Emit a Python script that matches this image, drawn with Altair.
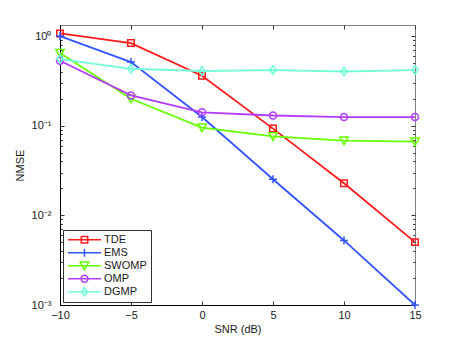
import altair as alt
import pandas as pd

# ---- data ----
snr = [-10, -5, 0, 5, 10, 15]
series = ["TDE", "EMS", "SWOMP", "OMP", "DGMP"]
tde = [1.07, 0.836, 0.361, 0.0929, 0.0228, 0.00503]
ems = [1.0, 0.513, 0.125, 0.0253, 0.00525, 0.001]
swomp = [0.647, 0.2, 0.0953, 0.0762, 0.0683, 0.0665]
omp = [0.531, 0.218, 0.141, 0.13, 0.125, 0.125]
dgmp = [0.554, 0.432, 0.408, 0.418, 0.403, 0.418]
colors = ["#ff1a1a", "#3355ff", "#66ff00", "#b43cff", "#73ffd9"]

x_ticks = [-10, -5, 0, 5, 10, 15]
y_major = [0.001, 0.01, 0.1, 1]
y_major_labels = ["10⁻³", "10⁻²", "10⁻¹", "10⁰"]
y_all = [k * 10.0 ** e for e in range(-3, 1) for k in range(1, 10) if k * 10.0 ** e <= 1.33]

# marker shapes (plot) and legend symbols (line + marker)
marker_paths = {
    "TDE": ("M-1,-1H1V1H-1Z", 42),
    "EMS": ("M-1,0H1M0,-1V1", 64),
    "SWOMP": ("M-1,-0.85H1L0,0.95Z", 72),
    "OMP": ("M1,0A1,1 0 1,1 -1,0A1,1 0 1,1 1,0Z", 49),
    "DGMP": ("M0,-1L0.75,0L0,1L-0.75,0Z", 72),
}
legend_paths = [
    "M-1,0H1M-0.195,-0.195H0.195V0.195H-0.195Z",
    "M-1,0H1M0,-0.24V0.24",
    "M-1,0H1M-0.26,-0.22H0.26L0,0.25Z",
    "M-1,0H1M0.21,0A0.21,0.21 0 1,1 -0.21,0A0.21,0.21 0 1,1 0.21,0Z",
    "M-1,0H1M0,-0.26L0.19,0L0,0.26L-0.19,0Z",
]

vals = {"TDE": tde, "EMS": ems, "SWOMP": swomp, "OMP": omp, "DGMP": dgmp}
rows = []
for s in series:
    for x, v in zip(snr, vals[s]):
        rows.append({"snr": x, "nmse": v, "series": s})
df = pd.DataFrame(rows)

W, H = 355, 280
FONT = "Liberation Sans"
TXT = "#1a1a1a"

xscale = alt.Scale(domain=[-10, 15], nice=False, zero=False)
yscale = alt.Scale(type="log", domain=[0.001, 1.33], nice=False)
cscale = alt.Scale(domain=series, range=colors)

major_test = "abs(log(datum.value)/LN10 - round(log(datum.value)/LN10)) < 0.001"
label_expr = (
    f"({major_test}) ? ("
    + " : ".join(
        f"datum.value > {v * 0.5} ? '{l}'" for v, l in zip(reversed(y_major), reversed(y_major_labels))
    )
    + " : '') : ''"
)

# inward ticks drawn as dashed grid lines: a short dash at each end of every grid line
x_axis = alt.Axis(values=x_ticks, ticks=False, tickSize=0, labelFlush=False,
                  domain=True, domainColor="#000000", domainWidth=1,
                  grid=True, gridColor="#333333", gridWidth=1, gridDash=[4, H - 8, 4], gridOpacity=1,
                  labelFont=FONT, labelFontSize=11, labelColor=TXT, labelPadding=4,
                  title="SNR (dB)", titleFont=FONT, titleFontSize=11, titleFontWeight="normal",
                  titleColor=TXT, titlePadding=3)
y_axis = alt.Axis(values=y_all, ticks=False, tickSize=0, labelFlush=False,
                  domain=True, domainColor="#000000", domainWidth=1,
                  grid=True, gridColor="#333333", gridWidth=1, gridOpacity=1,
                  gridDash={"condition": {"test": major_test, "value": [4, W - 8, 4]},
                            "value": [2.3, W - 4.6, 2.3]},
                  labelExpr=label_expr, labelFont=FONT, labelFontSize=11, labelColor=TXT,
                  labelPadding=9,
                  title="NMSE", titleFont=FONT, titleFontSize=11, titleFontWeight="normal",
                  titleColor=TXT, titlePadding=6)

X = alt.X("snr:Q", scale=xscale, axis=x_axis)
Y = alt.Y("nmse:Q", scale=yscale, axis=y_axis)

base = alt.Chart(df)

layers = []
for i, s in enumerate(series):
    path, size = marker_paths[s]
    sub = base.transform_filter(alt.datum.series == s)
    layers.append(sub.mark_line(strokeWidth=1.8, color=colors[i]).encode(x=X, y=Y))
    layers.append(
        sub.mark_point(shape=path, size=size, filled=False, strokeWidth=1.5, opacity=1,
                       color=colors[i]).encode(x=X, y=Y)
    )

leg = alt.Legend(title=None, orient="none", legendX=3, legendY=205,
                 symbolSize=1089, symbolStrokeWidth=1.5, symbolOpacity=1,
                 clipHeight=11.5, rowPadding=0, padding=4,
                 labelFont=FONT, labelFontSize=11, labelColor=TXT,
                 labelOffset=2, strokeColor="#333333", fillColor="white",
                 cornerRadius=0)

# legend-only layer: markers of size 0 (invisible), legend symbols = line + marker
legend_layer = base.mark_point(filled=False, size=0, strokeWidth=1.5).encode(
    x=X,
    y=Y,
    color=alt.Color("series:N", scale=cscale, legend=leg),
    shape=alt.Shape("series:N", scale=alt.Scale(domain=series, range=legend_paths), legend=leg),
)

chart = (
    alt.layer(*layers, legend_layer)
    .properties(width=W, height=H, autosize=alt.AutoSizeParams(type="none"),
                padding={"left": 52, "top": 17, "right": 35, "bottom": 32},
                background="white")
    .configure_view(stroke="#808080", strokeWidth=1)
)

chart.save("out.html", embed_options={"renderer": "svg", "actions": False})
